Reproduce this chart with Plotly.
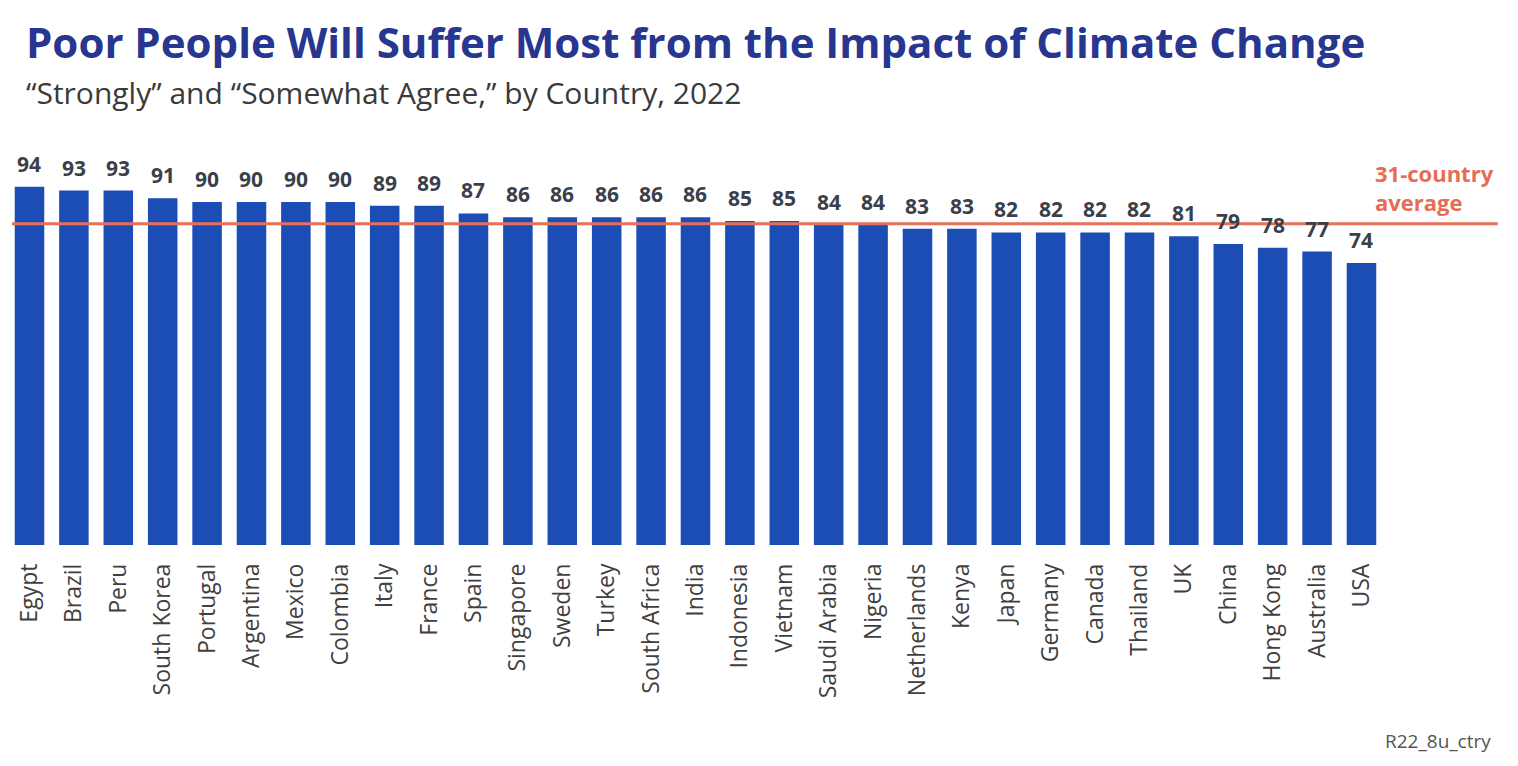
import plotly.graph_objects as go

countries = ["Egypt", "Brazil", "Peru", "South Korea", "Portugal", "Argentina", "Mexico",
             "Colombia", "Italy", "France", "Spain", "Singapore", "Sweden", "Turkey",
             "South Africa", "India", "Indonesia", "Vietnam", "Saudi Arabia", "Nigeria",
             "Netherlands", "Kenya", "Japan", "Germany", "Canada", "Thailand", "UK",
             "China", "Hong Kong", "Australia", "USA"]
agree = [94, 93, 93, 91, 90, 90, 90, 90, 89, 89, 87, 86, 86, 86, 86, 86, 85, 85, 84, 84,
         83, 83, 82, 82, 82, 82, 81, 79, 78, 77, 74]
average = 84.3

BAR = "#1c4db4"
RED = "#e8705a"
FONT = "Open Sans"

xs = list(range(len(countries)))

fig = go.Figure()
fig.add_trace(go.Bar(
    x=xs, y=agree,
    marker=dict(color=BAR, line=dict(width=0)),
    width=0.665, hoverinfo="x+y", showlegend=False,
))

# value labels above the bars
for i, v in zip(xs, agree):
    fig.add_annotation(x=i, y=v, xref="x", yref="y", yanchor="bottom", yshift=7,
                       showarrow=False, text=str(v),
                       font=dict(family=FONT, size=21, color="#3a3f4a", weight="bold"))

# 31-country average line, drawn over the bars and labels
fig.add_shape(type="line", xref="x", yref="y", x0=-0.394, x1=33.07, y0=average, y1=average,
              line=dict(color=RED, width=3), layer="above")
fig.add_annotation(x=30.26, y=average, xref="x", yref="y", xanchor="left", yanchor="bottom",
                   yshift=5, showarrow=False, align="left",
                   text="31-country<br>average",
                   font=dict(family=FONT, size=22, color="#e86c55", weight="bold"))

fig.add_annotation(x=0.0107, y=1.0, xref="paper", yref="paper", yanchor="top", yshift=117,
                   xanchor="left", showarrow=False,
                   text="Poor People Will Suffer Most from the Impact of Climate Change",
                   font=dict(family=FONT, size=42, color="#27368f", weight="bold"))
fig.add_annotation(x=0.0107, y=1.0, xref="paper", yref="paper", yanchor="top", yshift=58,
                   xanchor="left", showarrow=False,
                   text="“Strongly” and “Somewhat Agree,” by Country, 2022",
                   font=dict(family=FONT, size=30, color="#3a3a3a"))
fig.add_annotation(x=0.99, y=0, xref="paper", yref="paper", xanchor="right", yanchor="top",
                   yshift=-181, showarrow=False,
                   text="R22_8u_ctry", font=dict(family=FONT, size=19, color="#555555"))

fig.update_layout(
    width=1510, height=758,
    margin=dict(l=0, r=10, t=120, b=221),
    paper_bgcolor="white", plot_bgcolor="white",
    xaxis=dict(range=[-0.484, 33.3], tickmode="array",
               tickvals=xs, ticktext=countries,
               tickangle=-90, showgrid=False, zeroline=False, showline=False,
               ticks="", ticklabelstandoff=13,
               tickfont=dict(family=FONT, size=23, color="#404040")),
    yaxis=dict(range=[0, 109.4], visible=False, showgrid=False, zeroline=False),
)

fig.write_html("out.html")
